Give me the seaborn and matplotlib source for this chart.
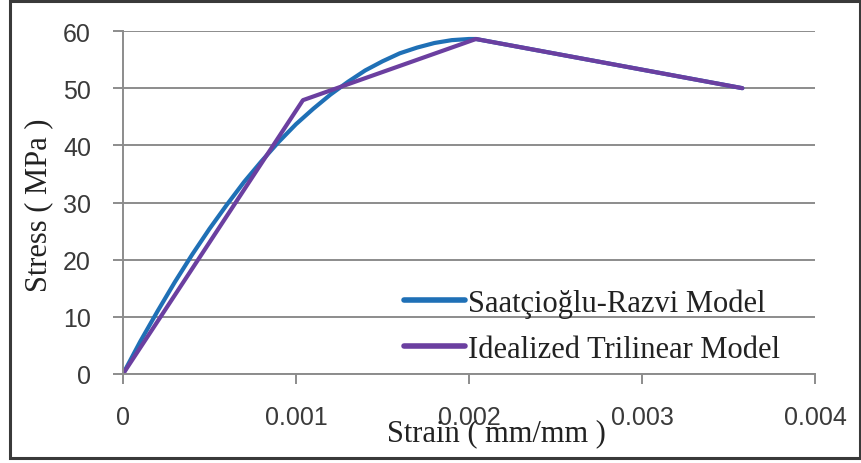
import numpy as np
import pandas as pd
import matplotlib
matplotlib.use("Agg")
import matplotlib.pyplot as plt
from matplotlib.patches import Rectangle
import seaborn as sns

# Confined concrete stress-strain data
sr_strain = [0.0, 0.0001, 0.0002, 0.0003, 0.0004, 0.0005, 0.0006, 0.0007,
             0.0008, 0.0009, 0.0010, 0.0011, 0.0012, 0.0013, 0.0014, 0.0015,
             0.0016, 0.0017, 0.0018, 0.0019, 0.0020, 0.00204, 0.00358]
sr_stress = [0.0, 5.7, 11.0, 16.1, 20.9, 25.4, 29.6, 33.6,
             37.2, 40.6, 43.7, 46.4, 48.9, 51.1, 53.1, 54.7,
             56.1, 57.1, 57.9, 58.4, 58.6, 58.6, 50.0]

tri_strain = [0.0, 0.00104, 0.00204, 0.00358]
tri_stress = [0.0, 47.9, 58.6, 50.0]

model_names = ["Saatçioğlu-Razvi Model", "Idealized Trilinear Model"]
line_colors = ["#1F70B6", "#6B3FA0"]

x_ticks = [0, 0.001, 0.002, 0.003, 0.004]
x_tick_labels = ["0", "0.001", "0.002", "0.003", "0.004"]
y_ticks = [0, 10, 20, 30, 40, 50, 60]

df = pd.concat([
    pd.DataFrame({"Strain": sr_strain, "Stress": sr_stress, "Model": model_names[0]}),
    pd.DataFrame({"Strain": tri_strain, "Stress": tri_stress, "Model": model_names[1]}),
], ignore_index=True)

sns.set_style("white")
plt.rcParams["font.family"] = ["Liberation Sans", "DejaVu Sans"]

fig = plt.figure(figsize=(8.62, 4.64), dpi=100)
ax = fig.add_axes([123 / 862, 89 / 464, 692 / 862, 343 / 464])

sns.lineplot(data=df, x="Strain", y="Stress", hue="Model", hue_order=model_names,
             palette=dict(zip(model_names, line_colors)), sort=False,
             estimator=None, linewidth=3.0, ax=ax)

ax.set_xlim(0, 0.004)
ax.set_ylim(0, 60)
ax.set_xticks(x_ticks)
ax.set_xticklabels(x_tick_labels)
ax.set_yticks(y_ticks)

grid_gray = "#8C8C8C"
ax.yaxis.grid(True, color=grid_gray, linewidth=1.4)
ax.xaxis.grid(False)
for side in ["top", "right"]:
    ax.spines[side].set_visible(False)
for side in ["left", "bottom"]:
    ax.spines[side].set_color(grid_gray)
    ax.spines[side].set_linewidth(1.4)

ax.tick_params(axis="x", direction="out", length=7, width=1.4, color=grid_gray,
               pad=15, labelsize=18, labelcolor="#3A3A3A")
ax.tick_params(axis="y", direction="out", length=7, width=1.4, color=grid_gray,
               pad=16, labelsize=18, labelcolor="#3A3A3A")
ax.tick_params(bottom=True, left=True)

serif = ["Liberation Serif", "DejaVu Serif"]
ax.set_xlabel("Strain ( mm/mm )", family=serif, fontsize=22, color="#222222")
ax.xaxis.label.set_va("center")
ax.xaxis.set_label_coords(0.539, -0.172)
ax.set_ylabel("Stress ( MPa )", family=serif, fontsize=22, color="#222222")
ax.yaxis.label.set_va("center")
ax.yaxis.set_label_coords(-0.122, 0.496)

handles, labels = ax.get_legend_handles_labels()
for h in handles:
    h.set_linewidth(4)
ax.legend(handles, labels, loc="upper left", bbox_to_anchor=(0.406, 0.25),
          frameon=False, prop={"family": serif, "size": 22},
          handlelength=2.0, handletextpad=0.1, labelspacing=0.56,
          borderaxespad=0.0, borderpad=0.0, labelcolor="#222222")

fig.add_artist(Rectangle((10 / 862, 5 / 464), 850 / 862, 457 / 464,
                         transform=fig.transFigure, fill=False,
                         edgecolor="#3A3A3A", linewidth=2.2))

fig.savefig("out.png", dpi=100)
